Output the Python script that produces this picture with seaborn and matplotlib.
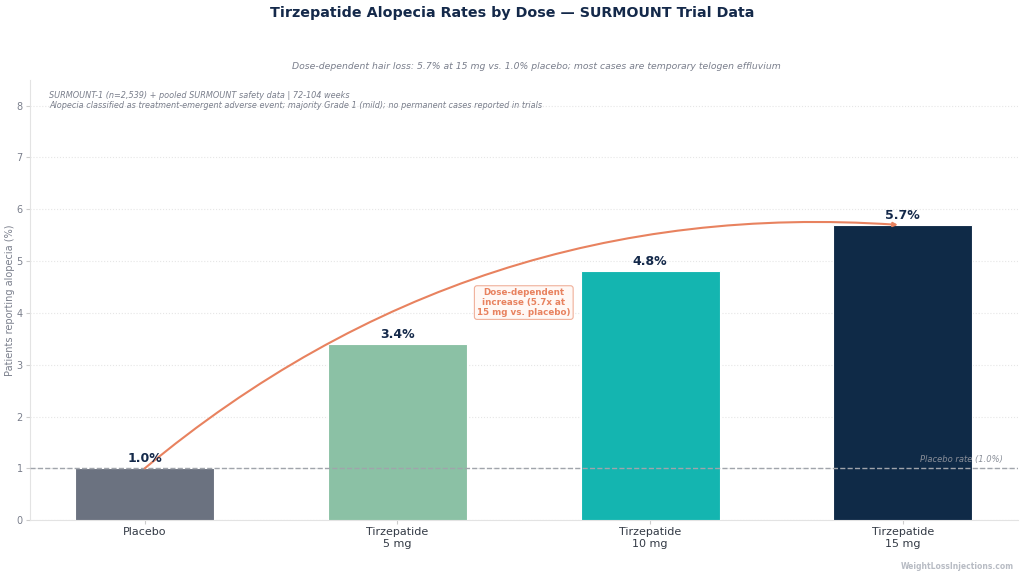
import matplotlib
matplotlib.use("Agg")
import matplotlib.pyplot as plt
import seaborn as sns
import pandas as pd

categories = ["Placebo", "Tirzepatide\n5 mg", "Tirzepatide\n10 mg", "Tirzepatide\n15 mg"]
rates = [1.0, 3.4, 4.8, 5.7]
colors = ["#6B7280", "#8BC1A5", "#14B5B0", "#0F2A47"]
placebo_rate = 1.0

navy = "#14294A"
coral = "#E8825F"
gray = "#7A7F8C"


def main():
    sns.set_style("white")
    plt.rcParams["font.family"] = ["DejaVu Sans"]
    plt.rcParams["font.sans-serif"] = ["DejaVu Sans"]

    df = pd.DataFrame({"Group": categories, "Rate": rates})

    fig, ax = plt.subplots(figsize=(10.24, 5.78), dpi=100)
    fig.subplots_adjust(left=0.029, right=0.994, top=0.862, bottom=0.1)

    sns.barplot(data=df, x="Group", y="Rate", hue="Group", palette=colors,
                width=0.55, legend=False, ax=ax, zorder=3, saturation=1,
                edgecolor="white", linewidth=0.8)

    # Value labels above bars
    for i, v in enumerate(rates):
        ax.text(i, v + 0.06, f"{v:.1f}%", ha="center", va="bottom",
                fontsize=9, fontweight="bold", color=navy, zorder=5)

    # Placebo reference line
    ax.axhline(placebo_rate, color="#A0A4AB", linestyle="--", linewidth=1.0, zorder=4)
    ax.text(0.985, placebo_rate + 0.08, "Placebo rate (1.0%)", ha="right", va="bottom",
            transform=ax.get_yaxis_transform(),
            fontsize=6, style="italic", color="#8A8F99", zorder=5)

    # Dose-response curve arrow
    ax.annotate("", xy=(2.98, rates[3]), xytext=(0, rates[0]),
                arrowprops=dict(arrowstyle="-|>", color=coral, lw=1.5,
                                mutation_scale=6, shrinkA=0, shrinkB=0,
                                connectionstyle="arc3,rad=-0.2"),
                zorder=4)
    ax.text(1.5, 4.2, "Dose-dependent\nincrease (5.7x at\n15 mg vs. placebo)",
            ha="center", va="center", fontsize=6.3, fontweight="bold", color=coral,
            linespacing=1.1,
            bbox=dict(boxstyle="round,pad=0.3", facecolor="#FFF8F5", edgecolor="#F0B09A",
                      linewidth=0.8), zorder=6)

    # Study note
    ax.text(0.02, 0.975,
            "SURMOUNT-1 (n=2,539) + pooled SURMOUNT safety data | 72-104 weeks\n"
            "Alopecia classified as treatment-emergent adverse event; majority Grade 1 (mild); no permanent cases reported in trials",
            transform=ax.transAxes, ha="left", va="top", fontsize=5.9,
            style="italic", color=gray, linespacing=1.2)

    ax.set_ylim(0, 8.5)
    ax.set_xlim(-0.455, 3.455)
    ax.set_xlabel("")
    ax.set_ylabel("Patients reporting alopecia (%)", fontsize=7, color=gray, labelpad=1)
    ax.tick_params(axis="x", labelsize=8, colors="#333A45", length=3, bottom=True,
                   color="#CCCCCC", pad=2)
    ax.tick_params(axis="y", labelsize=7, colors=gray, length=3, left=True, color="#CCCCCC", pad=2)
    ax.yaxis.grid(True, linestyle=":", color="#E6E6E6", linewidth=0.8, zorder=0)
    for s in ["top", "right"]:
        ax.spines[s].set_visible(False)
    for s in ["left", "bottom"]:
        ax.spines[s].set_color("#E3E3E3")

    fig.suptitle("Tirzepatide Alopecia Rates by Dose \u2014 SURMOUNT Trial Data",
                 fontsize=10.3, fontweight="bold", color=navy, y=0.99)
    fig.text(0.524, 0.885,
             "Dose-dependent hair loss: 5.7% at 15 mg vs. 1.0% placebo; most cases are temporary telogen effluvium",
             ha="center", va="center", fontsize=6.7, style="italic", color=gray)
    fig.text(0.99, 0.012, "WeightLossInjections.com", ha="right", va="bottom",
             fontsize=5.5, fontweight="bold", color="#B8BCC4")

    fig.savefig("out.png", dpi=100)
    plt.close()


if __name__ == "__main__":
    main()
